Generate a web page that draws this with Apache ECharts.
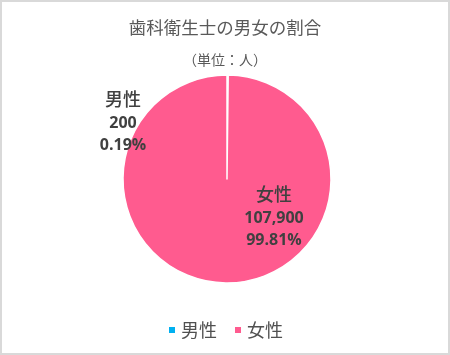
<!DOCTYPE html>
<html><head><meta charset="utf-8">
<script src="https://cdn.jsdelivr.net/npm/echarts@6/dist/echarts.min.js"></script>
<style>
html,body{margin:0;padding:0;background:#fff;}
#c{width:450px;height:355px;box-sizing:border-box;border:2px solid #d9d9d9;}
</style></head><body>
<div id="c"></div>
<script>
const titleText = '歯科衛生士の男女の割合';
const subtitleText = '（単位：人）';
const categories = ['男性', '女性'];
const values = [200, 107900];
const colors = ['#00B0F0', '#FF5B8F'];

function commas(n){ return String(n).replace(/\B(?=(\d{3})+(?!\d))/g, ','); }

const chart = echarts.init(document.getElementById('c'), null, {renderer:'canvas'});
const jp = '"Noto Sans CJK JP", "Noto Sans", sans-serif';
chart.setOption({
  animation:false,
  title:[{
    text: titleText, left:'center', top:12,
    textStyle:{fontFamily:jp, fontSize:17.5, fontWeight:'normal', color:'#595959'}
  },{
    text: subtitleText, left:'center', top:46,
    textStyle:{fontFamily:jp, fontSize:14, fontWeight:'normal', color:'#595959'}
  }],
  legend:{
    bottom:9, left:'center', itemWidth:8, itemHeight:8, itemGap:16, icon:'rect',
    textStyle:{fontFamily:jp, fontSize:18, color:'#505050'},
    data: categories
  },
  series:[{
    type:'pie', center:[225,177], radius:104, startAngle:90, clockwise:true,
    percentPrecision:2, minAngle:0,
    data: categories.map((n,i)=>({name:n, value:values[i], itemStyle:{color:colors[i]}})),
    itemStyle:{borderColor:'#fff', borderWidth:1.5},
    label:{
      show:true, position:'inside',
      formatter: p => '{n|'+p.name+'}\n{v|'+commas(p.value)+'}\n{v|'+p.percent.toFixed(2)+'%}',
      rich:{
        n:{fontFamily:jp, fontSize:18, fontWeight:500, color:'#404040', lineHeight:27, align:'center'},
        v:{fontFamily:'"Open Sans", sans-serif', fontSize:16, fontWeight:'bold', color:'#404040', lineHeight:22, align:'center'}
      }
    },
    labelLine:{show:false},
    labelLayout: function(p){
      return p.dataIndex === 0 ? {x:121, y:119, align:'center', verticalAlign:'middle'}
                               : {x:272, y:214, align:'center', verticalAlign:'middle'};
    }
  }]
});
</script>
</body></html>
